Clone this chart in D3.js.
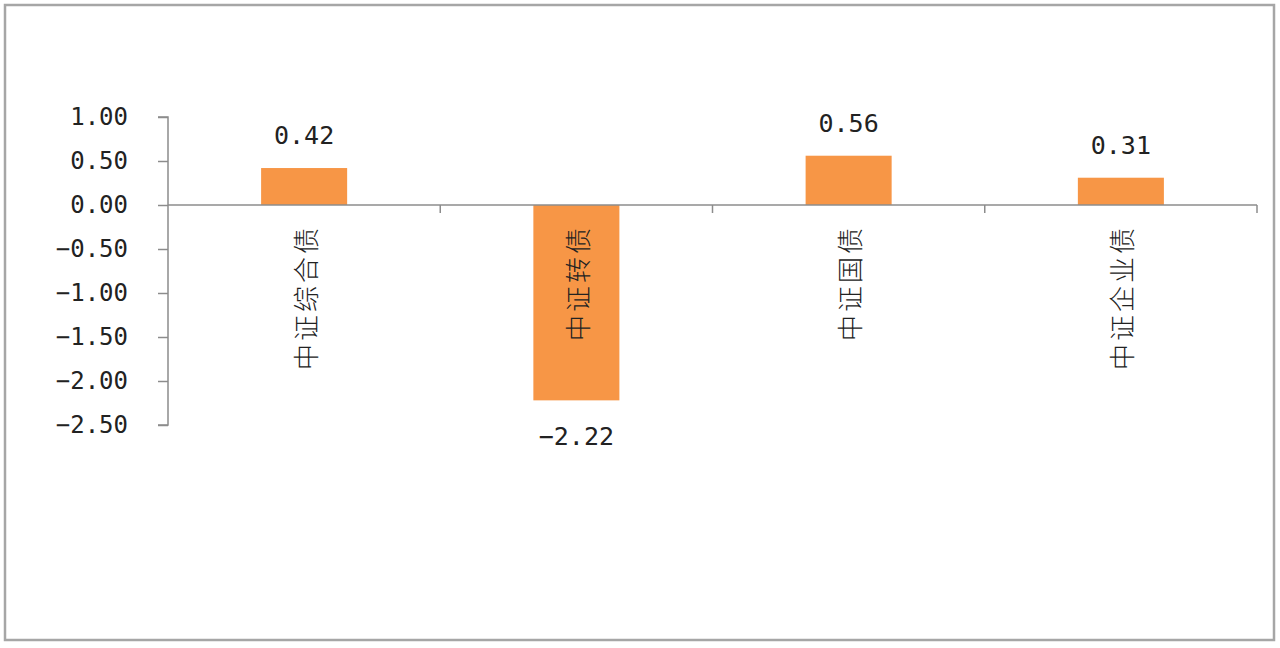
<!DOCTYPE html>
<html><head><meta charset="utf-8">
<script src="https://cdn.jsdelivr.net/npm/d3@7"></script>
<style>html,body{margin:0;padding:0;background:#fff;}svg{display:block;}</style>
</head><body>
<svg id="c" width="1280" height="648"></svg>
<script>
const categories = ["中证综合债", "中证转债", "中证国债", "中证企业债"];
const values = [0.42, -2.22, 0.56, 0.31];
const yTicks = [1.0, 0.5, 0.0, -0.5, -1.0, -1.5, -2.0, -2.5];

const svg = d3.select("#c");
svg.append("rect").attr("x",5).attr("y",5).attr("width",1269).attr("height",635)
  .attr("fill","#fff").attr("stroke","#a6a6a6").attr("stroke-width",2.5);

const x = d3.scaleBand().domain(categories).range([168,1257]).padding(0);
const y = d3.scaleLinear().domain([-2.5,1.0]).range([425,117]);
const barFrac = 0.316;
const axisColor = "#8c8c8c";
const numFont = "'DejaVu Sans Mono', monospace";
const fmt = d3.format(".2f");

// Y axis
const yAxis = d3.axisLeft(y).tickValues(yTicks).tickFormat(fmt).tickSize(10).tickPadding(30);
const gy = svg.append("g").attr("transform","translate(168,0)").call(yAxis);
gy.select(".domain").attr("stroke",axisColor).attr("stroke-width",1.5).attr("d","M-10,117H0V425H-10");
gy.selectAll(".tick line").attr("stroke",axisColor).attr("stroke-width",1.5);
gy.selectAll(".tick text").attr("font-family",numFont).attr("font-size",24).attr("fill","#222");

// Bars
svg.append("g").selectAll("rect").data(values).join("rect")
  .attr("x",(d,i)=>x(categories[i]) + x.bandwidth()*(1-barFrac)/2)
  .attr("width",x.bandwidth()*barFrac)
  .attr("y",d=>y(Math.max(0,d)))
  .attr("height",d=>Math.abs(y(d)-y(0)))
  .attr("fill","#f79646");

// X axis line at zero
const y0 = y(0);
svg.append("line").attr("x1",168).attr("x2",1257).attr("y1",y0).attr("y2",y0)
  .attr("stroke",axisColor).attr("stroke-width",1.5);
const bounds = categories.map(c=>x(c)).slice(1).concat([1257]);
svg.append("g").selectAll("line").data(bounds).join("line")
  .attr("x1",d=>d).attr("x2",d=>d).attr("y1",y0).attr("y2",y0+8)
  .attr("stroke",axisColor).attr("stroke-width",1.5);

// Category labels (vertical)
svg.append("g").selectAll("text").data(categories).join("text")
  .attr("transform",c=>`translate(${x(c)+x.bandwidth()/2},${y0+20}) rotate(-90)`)
  .attr("text-anchor","end").attr("dominant-baseline","central")
  .attr("font-family","'Noto Sans CJK SC', sans-serif").attr("font-size",26)
  .attr("font-weight",300)
  .attr("letter-spacing",3).attr("fill","#222")
  .text(c=>c);

// Value labels
svg.append("g").selectAll("text").data(values).join("text")
  .attr("x",(d,i)=>x(categories[i])+x.bandwidth()/2)
  .attr("y",d=> d>=0 ? y(d)-24 : y(d)+45)
  .attr("text-anchor","middle")
  .attr("font-family",numFont).attr("font-size",25).attr("fill","#222")
  .text(d=>fmt(d));
</script>
</body></html>
